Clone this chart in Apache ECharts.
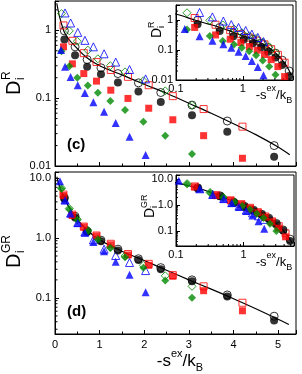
<!DOCTYPE html>
<html><head><meta charset="utf-8">
<script src="https://cdn.jsdelivr.net/npm/echarts@6/dist/echarts.min.js"></script>
<style>html,body{margin:0;padding:0;background:#fff}#c{width:302px;height:374px}</style>
</head><body><div id="c"></div>
<script>
// ---------- x positions (-s^ex/kB) per symbol family ----------
const blackX = [0.21, 0.45, 0.72, 1.03, 1.41, 1.87, 2.37, 3.07, 3.86, 4.91];
const redX   = [0.19, 0.39, 0.645, 0.93, 1.25, 1.635, 2.10, 2.64, 3.33, 4.20];
const greenX = [0.146, 0.32, 0.50, 0.735, 0.96, 1.24, 1.57, 1.98, 2.47, 3.07];
const blueXc = [0.135, 0.225, 0.35, 0.51, 0.67, 0.86, 1.10, 1.36, 1.67, 2.03];
const blueXd = [0.11, 0.225, 0.35, 0.51, 0.67, 0.86, 1.10, 1.36, 1.67, 2.03];

// ---------- panel (c): D_i^R ----------
const cBlackFilled = [0.73, 0.43, 0.29, 0.225, 0.17, 0.125, 0.088, 0.056, 0.032, 0.0137];
const cBlackOpen   = [0.98, 0.57, 0.37, 0.28, 0.23, 0.168, 0.121, 0.079, 0.046, 0.020];
const cRedFilled   = [0.57, 0.32, 0.23, 0.178, 0.131, 0.099, 0.071, 0.048, 0.028, 0.013];
const cRedOpen     = [1.18, 0.70, 0.46, 0.34, 0.26, 0.206, 0.155, 0.107, 0.069, 0.038];
const cGreenFilled = [0.49, 0.295, 0.20, 0.154, 0.120, 0.091, 0.067, 0.045, 0.028, 0.015];
const cGreenOpen   = [1.76, 0.98, 0.69, 0.51, 0.38, 0.30, 0.244, 0.18, 0.128, 0.079];
const cBlueFilled  = [0.51, 0.29, 0.204, 0.155, 0.119, 0.087, 0.063, 0.043, 0.027, 0.0145];
const cBlueOpen    = [null, 1.80, 1.28, 0.93, 0.71, 0.57, 0.45, 0.34, 0.264, 0.192];
const cFitX = [0.04, 0.1, 0.2, 0.3, 0.45, 0.7, 1.0, 1.5, 2.0, 2.5, 3.0, 3.5, 4.0, 4.5, 5.0, 5.26];
const cFitY = [2.5, 1.6, 0.97, 0.75, 0.58, 0.40, 0.30, 0.22, 0.16, 0.118, 0.084, 0.060, 0.042, 0.029, 0.019, 0.0146];

// ---------- panel (d): D_i^GR ----------
const dBlackFilled = [4.5, 2.2, 1.27, 0.88, 0.62, 0.43, 0.30, 0.19, 0.106, 0.042];
const dBlackOpen   = [4.7, 2.3, 1.3, 0.92, 0.65, 0.45, 0.32, 0.20, 0.112, 0.0495];
const dRedFilled   = [5.1, 2.38, 1.52, 1.08, 0.77, 0.52, 0.35, 0.23, 0.132, 0.061];
const dRedOpen     = [5.3, 2.45, 1.55, 1.10, 0.80, 0.54, 0.37, 0.24, 0.156, 0.083];
const dGreenFilled = [6.6, 3.0, 2.0, 1.3, 0.94, 0.68, 0.475, 0.32, 0.196, 0.101];
const dGreenOpen   = [6.8, 3.1, 2.05, 1.35, 0.97, 0.70, 0.50, 0.35, 0.234, 0.156];
const dBlueFilled  = [8.8, 4.27, 2.55, 1.77, 1.22, 0.86, 0.60, 0.40, 0.243, 0.124];
const dBlueOpen    = [null, 4.3, 2.6, 1.8, 1.26, 0.93, 0.65, 0.51, 0.39, 0.286];
const dFitX = [0.04, 0.1, 0.2, 0.3, 0.45, 0.7, 1.0, 1.5, 2.0, 2.5, 3.0, 3.5, 4.0, 4.5, 5.0, 5.24];
const dFitY = [10.5, 7.3, 4.8, 3.4, 2.3, 1.4, 0.93, 0.60, 0.42, 0.29, 0.20, 0.14, 0.097, 0.066, 0.044, 0.036];

// ---------- tick labels ----------
const xMainTicks = ['0', '1', '2', '3', '4', '5'];
const cYTicks = {'0.01': '0.01', '0.1': '0.1', '1': '1'};
const dYTicks = {'0.1': '0.1', '1': '1.0', '10': '10.0'};
const insetXTicks = {'0.1': '0.1', '1': '1'};
const insetCYTicks = {'0.01': '0.01', '0.1': '0.1', '1': '1'};
const insetDYTicks = {'0.1': '0.1', '1': '1.0', '10': '10.0'};
// minor tick positions on the logarithmic axes
const minorC  = [0.02, 0.03, 0.04, 0.05, 0.06, 0.07, 0.08, 0.09, 0.2, 0.3, 0.4, 0.5, 0.6, 0.7, 0.8, 0.9, 2];
const minorD  = [0.03, 0.04, 0.05, 0.06, 0.07, 0.08, 0.09, 0.2, 0.3, 0.4, 0.5, 0.6, 0.7, 0.8, 0.9, 2, 3, 4, 5, 6, 7, 8, 9];
const minorIX = [0.2, 0.3, 0.4, 0.5, 0.6, 0.7, 0.8, 0.9, 2, 3, 4, 5];

const FONT = '"Liberation Sans", Arial, sans-serif';
const BLUE = '#0000ff', RED = '#ff0000', GREEN = '#008a00', BLACK = '#000000';

function pts(xs, ys) {
  const out = [];
  xs.forEach((x, i) => { if (ys[i] != null) out.push([x, ys[i]]); });
  return out;
}
function keyOf(v) { return String(parseFloat(v.toPrecision(6))); }
function fmt(map) { return v => map[keyOf(v)] || ''; }

function scat(idx, data, symbol, size, color, filled, z) {
  return {
    type: 'scatter', xAxisIndex: idx, yAxisIndex: idx, data: data,
    symbol: symbol, symbolSize: size, z: z, silent: true,
    itemStyle: filled ? {color: color, borderWidth: 0} :
      {color: 'rgba(0,0,0,0)', borderColor: color, borderWidth: 1},
    clip: true
  };
}
function fit(idx, xs, ys, z) {
  return {type: 'line', xAxisIndex: idx, yAxisIndex: idx, data: pts(xs, ys), smooth: 0.35,
    showSymbol: false, symbol: 'none', z: z, silent: true, clip: true,
    lineStyle: {color: '#000', width: 1.2}};
}
// minor ticks drawn through the axis scale (dir 'x' -> along bottom edge, 'y' -> along left edge)
function minorTicks(idx, vals, dir, refOther, len, z) {
  return {
    type: 'custom', xAxisIndex: idx, yAxisIndex: idx, silent: true, z: z, clip: false,
    data: vals.map(v => [v]),
    renderItem: function (params, api) {
      const cs = params.coordSys;
      const v = api.value(0);
      if (dir === 'x') {
        const p = api.coord([v, refOther]);
        const yb = cs.y + cs.height;
        return {type: 'line', shape: {x1: p[0], y1: yb, x2: p[0], y2: yb - len}, style: {stroke: '#000', lineWidth: 1}};
      } else {
        const p = api.coord([refOther, v]);
        return {type: 'line', shape: {x1: cs.x, y1: p[1], x2: cs.x + len, y2: p[1]}, style: {stroke: '#000', lineWidth: 1}};
      }
    }
  };
}
function panelSeries(idx, z, d) {
  return [
    fit(idx, d.fitX, d.fitY, z),
    scat(idx, pts(blackX, d.bo), 'circle', 8, BLACK, false, z + 1),
    scat(idx, pts(redX, d.ro), 'rect', 7, RED, false, z + 1),
    scat(idx, pts(greenX, d.go), 'diamond', 8, GREEN, false, z + 1),
    scat(idx, pts(d.bx, d.blo), 'triangle', 8, BLUE, false, z + 1),
    scat(idx, pts(blackX, d.bf), 'circle', 8, BLACK, true, z + 1),
    scat(idx, pts(redX, d.rf), 'rect', 7, RED, true, z + 1),
    scat(idx, pts(greenX, d.gf), 'diamond', 8, GREEN, true, z + 1),
    scat(idx, pts(d.bx, d.blf), 'triangle', 8, BLUE, true, z + 1)
  ];
}
const C = {fitX: cFitX, fitY: cFitY, bo: cBlackOpen, ro: cRedOpen, go: cGreenOpen, blo: cBlueOpen,
  bf: cBlackFilled, rf: cRedFilled, gf: cGreenFilled, blf: cBlueFilled, bx: blueXc};
const D = {fitX: dFitX, fitY: dFitY, bo: dBlackOpen, ro: dRedOpen, go: dGreenOpen, blo: dBlueOpen,
  bf: dBlackFilled, rf: dRedFilled, gf: dGreenFilled, blf: dBlueFilled, bx: blueXd};

const axisBase = {
  axisLine: {show: true, lineStyle: {color: '#000', width: 1}},
  splitLine: {show: false},
  axisTick: {inside: true, length: 4, lineStyle: {color: '#000'}},
  axisLabel: {color: '#000', fontFamily: FONT, fontSize: 11, margin: 4}
};
function xMain(grid, showLabels, z) {
  return Object.assign({}, axisBase, {
    type: 'value', gridIndex: grid, min: 0, max: 5.4, interval: 1, z: z,
    minorTick: {show: true, splitNumber: 2, length: 2.5, lineStyle: {color: '#000'}},
    axisLabel: Object.assign({}, axisBase.axisLabel, {show: showLabels, margin: 5,
      formatter: v => xMainTicks[Math.round(v)] !== undefined && Math.abs(v - Math.round(v)) < 1e-6 ? xMainTicks[Math.round(v)] : ''})
  });
}
function logAx(grid, min, max, map, z, extra) {
  return Object.assign({}, axisBase, {
    type: 'log', logBase: 10, gridIndex: grid, min: min, max: max, z: z,
    minorTick: {show: false},
    axisLabel: Object.assign({}, axisBase.axisLabel, {formatter: fmt(map)}, extra || {})
  });
}

function yTitle(x, y, sup, size, subSize, dx, dySup, dySub) {
  return {type: 'group', x: x, y: y, rotation: Math.PI / 2, children: [
    {type: 'text', x: 0, y: 0, style: {text: 'D', fontSize: size, fontFamily: FONT, fill: '#000', textVerticalAlign: 'middle'}},
    {type: 'text', x: dx, y: -dySup, style: {text: sup, fontSize: subSize, fontFamily: FONT, fill: '#000', textVerticalAlign: 'middle'}},
    {type: 'text', x: dx, y: dySub, style: {text: 'i', fontSize: subSize, fontFamily: FONT, fill: '#000', textVerticalAlign: 'middle'}}
  ]};
}
function xTitle(x, y, big, small) {
  return {type: 'text', x: x, y: y, style: {
    text: '{n|-s}{p|ex}{n|/k}{b|B}', textAlign: 'center', textVerticalAlign: 'middle',
    rich: {
      n: {fontSize: big, fontFamily: FONT, fill: '#000', lineHeight: big + 8, verticalAlign: 'middle'},
      p: {fontSize: small, fontFamily: FONT, fill: '#000', verticalAlign: 'top', lineHeight: big + 8},
      b: {fontSize: small, fontFamily: FONT, fill: '#000', verticalAlign: 'bottom', lineHeight: big + 8}
    }}};
}

const option = {
  animation: false,
  backgroundColor: '#fff',
  grid: [
    {left: 55, top: 1, width: 241, height: 165, show: true, borderColor: '#000', borderWidth: 1, backgroundColor: 'rgba(0,0,0,0)', z: 0},
    {left: 55, top: 172, width: 241, height: 162, show: true, borderColor: '#000', borderWidth: 1, backgroundColor: 'rgba(0,0,0,0)', z: 0},
    {left: 176, top: 5, width: 117, height: 75, show: true, borderColor: '#000', borderWidth: 1, backgroundColor: '#fff', z: 10},
    {left: 176, top: 175, width: 118, height: 71, show: true, borderColor: '#000', borderWidth: 1, backgroundColor: '#fff', z: 10}
  ],
  xAxis: [
    xMain(0, false, 1),
    xMain(1, true, 1),
    logAx(2, 0.1, 5.6, insetXTicks, 12, {margin: 3}),
    logAx(3, 0.1, 5.6, insetXTicks, 12, {margin: 3})
  ],
  yAxis: [
    logAx(0, 0.01, 2.7, cYTicks, 1),
    logAx(1, 0.025, 12.6, dYTicks, 1),
    logAx(2, 0.01, 3.2, insetCYTicks, 12, {margin: 3}),
    logAx(3, 0.027, 14.6, insetDYTicks, 12, {margin: 3})
  ],
  series: [].concat(
    panelSeries(0, 2, C), panelSeries(1, 2, D), panelSeries(2, 13, C), panelSeries(3, 13, D),
    [
      minorTicks(0, minorC, 'y', 1, 2.5, 3),
      minorTicks(1, minorD, 'y', 1, 2.5, 3),
      minorTicks(2, minorC, 'y', 1, 2, 14),
      minorTicks(3, minorD, 'y', 1, 2, 14),
      minorTicks(2, minorIX, 'x', 1, 2, 14),
      minorTicks(3, minorIX, 'x', 1, 2, 14)
    ]),
  graphic: [
    {type: 'text', left: 67, top: 137, z: 20, style: {text: '(c)', fontSize: 15, fontWeight: 'bold', fontFamily: FONT, fill: '#000'}},
    {type: 'text', left: 67, top: 304, z: 20, style: {text: '(d)', fontSize: 15, fontWeight: 'bold', fontFamily: FONT, fill: '#000'}},
    Object.assign(yTitle(14, 95, 'R', 20, 12, 15, 7, 7), {z: 20}),
    Object.assign(yTitle(14, 268, 'GR', 20, 12, 15, 7, 7), {z: 20}),
    Object.assign(yTitle(157, 38, 'R', 14, 9, 10, 5, 5), {z: 20}),
    Object.assign(yTitle(150, 218, 'GR', 14, 9, 10, 5, 5), {z: 20}),
    Object.assign(xTitle(180, 361, 17, 11), {z: 20}),
    Object.assign(xTitle(274, 95, 13, 9), {z: 20}),
    Object.assign(xTitle(274, 262, 13, 9), {z: 20})
  ]
};
const chart = echarts.init(document.getElementById('c'));
chart.setOption(option);
</script>
</body></html>
